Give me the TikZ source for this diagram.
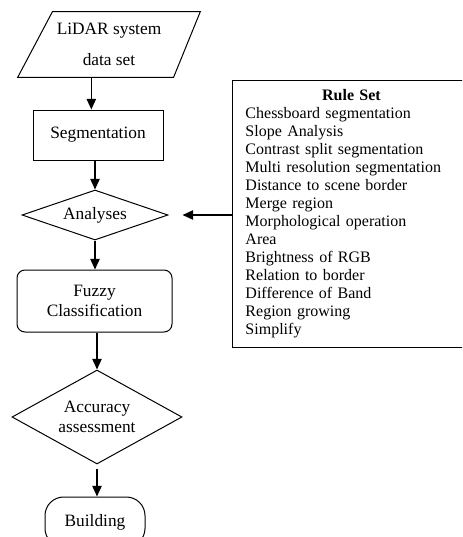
\documentclass[tikz,border=0pt]{standalone}
\usepackage{fontspec}
\setmainfont{Liberation Serif}
\usepackage{tikz}
\usetikzlibrary{arrows.meta, positioning, calc, shapes.geometric}
\newcommand{\flowfont}{\fontsize{13}{15}\selectfont}
\newcommand{\rulefont}{\fontsize{12}{13.5}\selectfont}

\begin{document}
\begin{tikzpicture}[
  x=0.75pt, y=-0.75pt,
  box/.style={draw, line width=0.75pt, align=center, font=\flowfont, inner sep=0pt},
  inputbox/.style={align=center, font=\flowfont, inner sep=0pt, minimum width=136.5pt, minimum height=48.75pt},
  procbox/.style={box, minimum width=97.5pt, minimum height=37.5pt},
  softbox/.style={box, rounded corners=6pt, minimum width=116.25pt, minimum height=46.5pt},
  decision/.style={box, diamond},
  endbox/.style={box, rounded corners=14pt, minimum width=75pt, minimum height=37.5pt},
  rulebox/.style={draw, line width=0.75pt, align=left, font=\rulefont, inner xsep=9.75pt,
    text width=159pt, minimum height=200.25pt},
  flow/.style={-{Triangle[length=8pt, width=7pt]}, line width=1.1pt}
]
\useasboundingbox (0,0) rectangle (462,537);
\clip (0,0) rectangle (462,537);

% main chain
\node[inputbox] (data) at (109,44.5) {LiDAR system\\[8pt]data set};
\draw[line width=0.75pt] ([xshift=26pt]data.north west) -- (data.north east)
  -- ([xshift=-20pt]data.south east) -- (data.south west) -- cycle;
\node[procbox] (seg) at (98,135) {Segmentation};
\node[decision, shape aspect=2.9, minimum width=109.5pt, minimum height=37.5pt] (ana) at (95,215) {Analyses};
\node[softbox] (fuz) at (94.5,301) {Fuzzy\\Classification};
\node[decision, shape aspect=1.8, minimum width=127.5pt, minimum height=70.5pt] (acc) at (97,417) {Accuracy\\assessment};
\node[endbox] (bld) at (95,522) {Building};

% rule set
\node[rulebox, anchor=north west] (rules) at (232,80) {%
  \makebox[159pt]{\textbf{Rule Set}}\\
  Chessboard segmentation\\
  Slope Analysis\\
  Contrast split segmentation\\
  Multi resolution segmentation\\
  Distance to scene border\\
  Merge region\\
  Morphological operation\\
  Area\\
  Brightness of RGB\\
  Relation to border\\
  Difference of Band\\
  Region growing\\
  Simplify};

\draw[flow] ([xshift=-5pt]seg.north |- data.south) -- ([xshift=-5pt]seg.north);
\draw[flow] (ana.north |- seg.south) -- (ana.north);
\draw[flow] (ana.south) -- (ana.south |- fuz.north);
\draw[flow] (acc.north |- fuz.south) -- (acc.north);
\draw[flow] ([yshift=-3pt]acc.south) -- (acc.south |- bld.north);
\draw[flow, shorten >=10.5pt] (rules.west |- ana.east) -- (ana.east);
\end{tikzpicture}
\end{document}
